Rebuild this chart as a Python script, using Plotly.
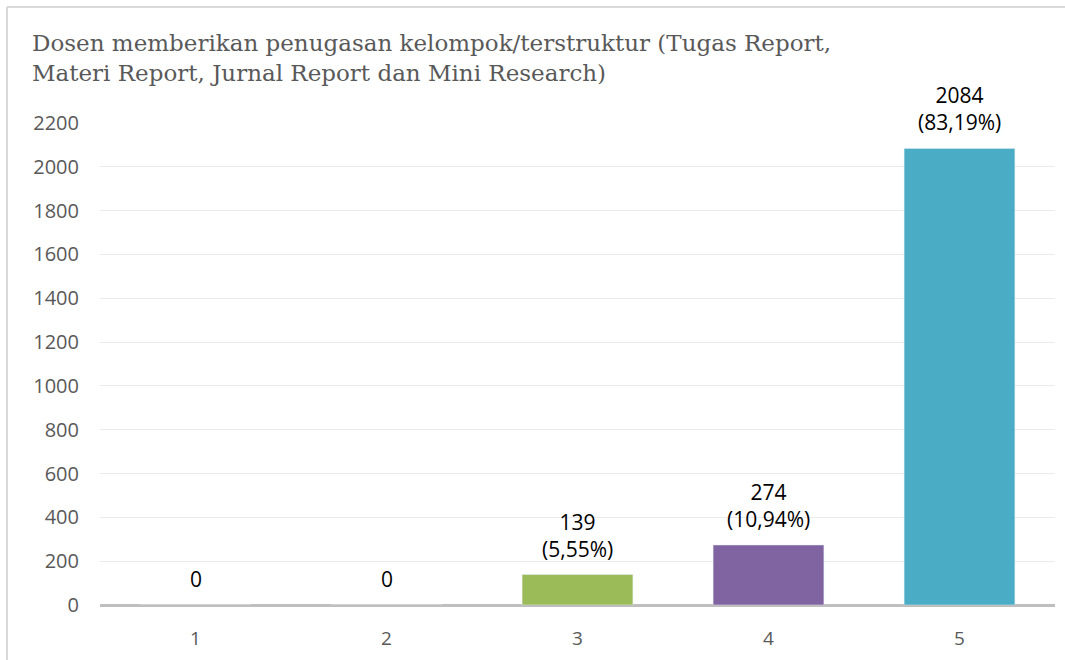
import plotly.graph_objects as go

categories = ["1", "2", "3", "4", "5"]
counts = [0, 0, 139, 274, 2084]
percent_labels = ["", "", "(5,55%)", "(10,94%)", "(83,19%)"]
bar_colors = ["#4F81BD", "#C0504D", "#9BBB59", "#8064A2", "#4BACC6"]
y_ticks = [0, 200, 400, 600, 800, 1000, 1200, 1400, 1600, 1800, 2000, 2200]

title_text = ("Dosen memberikan penugasan kelompok/terstruktur (Tugas Report,<br>"
              "Materi Report, Jurnal Report dan Mini Research)")

label_texts = [f"{c}<br>{p}" if p else f"{c}" for c, p in zip(counts, percent_labels)]

W, H = 1065, 660
L, R, T, B = 100, 10, 123, 55
pw, ph = W - L - R, H - T - B

fig = go.Figure()
fig.add_trace(go.Bar(
    x=categories, y=counts,
    marker_color=bar_colors,
    width=0.58,
))

# labels above bars (x given as category index)
for i, (val, txt) in enumerate(zip(counts, label_texts)):
    fig.add_annotation(
        x=i, y=val, text=txt,
        showarrow=False, yanchor="bottom", yshift=10,
        font=dict(family="Open Sans, Liberation Sans", size=21, color="#000000"),
    )

fig.update_layout(
    width=W, height=H,
    margin=dict(l=L, r=R, t=T, b=B),
    paper_bgcolor="white",
    plot_bgcolor="white",
    showlegend=False,
    title=dict(
        text=title_text,
        x=32 / W, xanchor="left",
        y=1 - 51 / H, yanchor="top",
        font=dict(family="DejaVu Serif", size=23, color="#595959"),
    ),
    xaxis=dict(
        type="category",
        tickfont=dict(family="Open Sans, Liberation Sans", size=19, color="#595959"),
        showline=False, showgrid=False, ticks="",
        ticklabelstandoff=20,
    ),
    yaxis=dict(
        range=[0, 2200],
        tickvals=y_ticks,
        tickfont=dict(family="Open Sans, Liberation Sans", size=20, color="#595959"),
        showgrid=True, gridcolor="#EBEBEB", gridwidth=1,
        zeroline=True, zerolinecolor="#BFBFBF", zerolinewidth=3,
        ticks="", ticklabelstandoff=20,
    ),
    shapes=[
        dict(type="line", xref="paper", yref="paper",
             x0=(7 - L) / pw, x1=(7 - L) / pw, y0=1 + (T - 7) / ph, y1=-0.2,
             line=dict(color="#D9D9D9", width=2)),
        dict(type="line", xref="paper", yref="paper",
             x0=(7 - L) / pw, x1=1.02, y0=1 + (T - 7) / ph, y1=1 + (T - 7) / ph,
             line=dict(color="#D9D9D9", width=2)),
    ],
)

fig.write_html("out.html", config={"displayModeBar": False},
               post_script="document.body.style.margin='0';")
